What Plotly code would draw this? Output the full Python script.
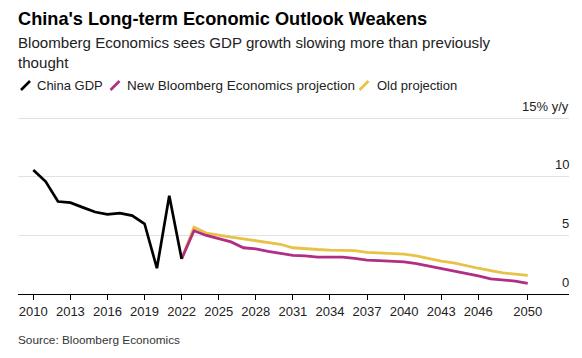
import plotly.graph_objects as go

# ---- data ----
gdp_years = list(range(2010, 2023))
gdp_values = [10.6, 9.6, 7.9, 7.8, 7.4, 7.0, 6.8, 6.9, 6.7, 6.0, 2.2, 8.4, 3.0]

proj_years = list(range(2022, 2051))
new_proj = [3.0, 5.4, 5.0, 4.7, 4.45, 3.95, 3.85, 3.65, 3.5, 3.3, 3.25, 3.15, 3.15,
            3.15, 3.05, 2.9, 2.85, 2.8, 2.75, 2.6, 2.4, 2.15, 1.95, 1.75, 1.55,
            1.3, 1.2, 1.1, 0.9]
old_proj = [3.0, 5.7, 5.2, 5.0, 4.85, 4.7, 4.55, 4.4, 4.25, 3.95, 3.85, 3.8, 3.75,
            3.7, 3.7, 3.55, 3.5, 3.45, 3.4, 3.25, 3.0, 2.8, 2.65, 2.4, 2.2,
            2.0, 1.8, 1.7, 1.6]

x_tickvals = [2010, 2013, 2016, 2019, 2022, 2025, 2028, 2031, 2034, 2037, 2040, 2043, 2046, 2050]
x_ticktext = [str(v) for v in x_tickvals]
y_tickvals = [0, 5, 10, 15]
y_ticktext = ["0", "5", "10", "15% y/y"]

title = "China's Long-term Economic Outlook Weakens"
subtitle = "Bloomberg Economics sees GDP growth slowing more than previously<br>thought"
legend_names = ["China GDP", "New Bloomberg Economics projection", "Old projection"]
source = "Source: Bloomberg Economics"

# ---- styling ----
W, H = 582, 358
ML, MR, MT, MB = 18, 13, 95, 64
PW, PH = W - ML - MR, H - MT - MB
C_GDP, C_NEW, C_OLD = "#000000", "#b02f84", "#e8c247"
FONT = "Liberation Sans, Arial, Helvetica, sans-serif"


def px(x):
    return (x - ML) / PW


def py(y):
    return (H - MB - y) / PH


fig = go.Figure()
fig.add_trace(go.Scatter(x=proj_years, y=old_proj, mode="lines", name=legend_names[2],
                         line=dict(color=C_OLD, width=2.8), hoverinfo="skip"))
fig.add_trace(go.Scatter(x=proj_years, y=new_proj, mode="lines", name=legend_names[1],
                         line=dict(color=C_NEW, width=2.8), hoverinfo="skip"))
fig.add_trace(go.Scatter(x=gdp_years, y=gdp_values, mode="lines", name=legend_names[0],
                         line=dict(color=C_GDP, width=2.7), hoverinfo="skip"))

annotations = [
    dict(text="<b>" + title + "</b>", x=px(16), y=py(19), xanchor="left", yanchor="middle",
         font=dict(size=18.2, color="#000000", family=FONT)),
    dict(text=subtitle, x=px(16), y=py(53), xanchor="left", yanchor="middle", align="left",
         font=dict(size=15.1, color="#222222", family=FONT)),
    dict(text=legend_names[0], x=px(35), y=py(85.5), xanchor="left", yanchor="middle",
         font=dict(size=13, color="#222222", family=FONT)),
    dict(text=legend_names[1], x=px(125), y=py(85.5), xanchor="left", yanchor="middle",
         font=dict(size=13.5, color="#222222", family=FONT)),
    dict(text=legend_names[2], x=px(375), y=py(85.5), xanchor="left", yanchor="middle",
         font=dict(size=13, color="#222222", family=FONT)),
    dict(text=source, x=px(16), y=py(340), xanchor="left", yanchor="middle",
         font=dict(size=11.8, color="#333333", family=FONT)),
]
for a in annotations:
    a.update(xref="paper", yref="paper", showarrow=False)

# y-axis labels sit above their gridlines, right-aligned at the plot edge
for v, t in zip(y_tickvals, y_ticktext):
    annotations.append(dict(text=t, xref="paper", yref="y", x=px(571), y=v,
                            xanchor="right", yanchor="middle", yshift=12, showarrow=False,
                            font=dict(size=13, color="#222222", family=FONT)))

shapes = []
for x0, col in [(21, C_GDP), (110.5, C_NEW), (359.5, C_OLD)]:
    shapes.append(dict(type="line", xref="paper", yref="paper",
                       x0=px(x0), y0=py(90), x1=px(x0 + 9), y1=py(81),
                       line=dict(color=col, width=2.6)))

fig.update_layout(
    width=W, height=H,
    margin=dict(l=ML, r=MR, t=MT, b=MB, pad=0),
    paper_bgcolor="white", plot_bgcolor="white",
    showlegend=False,
    annotations=annotations,
    shapes=shapes,
    font=dict(family=FONT, size=13, color="#222222"),
    xaxis=dict(range=[2008.762, 2053.34], tickvals=x_tickvals, ticktext=x_ticktext,
               showgrid=False, zeroline=False, showline=True, linecolor="#000000", linewidth=1,
               ticks="outside", ticklen=5, tickcolor="#000000", tickwidth=1,
               tickfont=dict(size=13, color="#222222", family=FONT), fixedrange=True),
    yaxis=dict(range=[0, 17], tickvals=y_tickvals, showticklabels=False, side="right",
               showgrid=True, gridcolor="#e2e2e2", gridwidth=1,
               zeroline=False, showline=False, ticks="", fixedrange=True),
)

fig.write_html("out.html", config={"displayModeBar": False},
               post_script="document.body.style.margin='0';")
